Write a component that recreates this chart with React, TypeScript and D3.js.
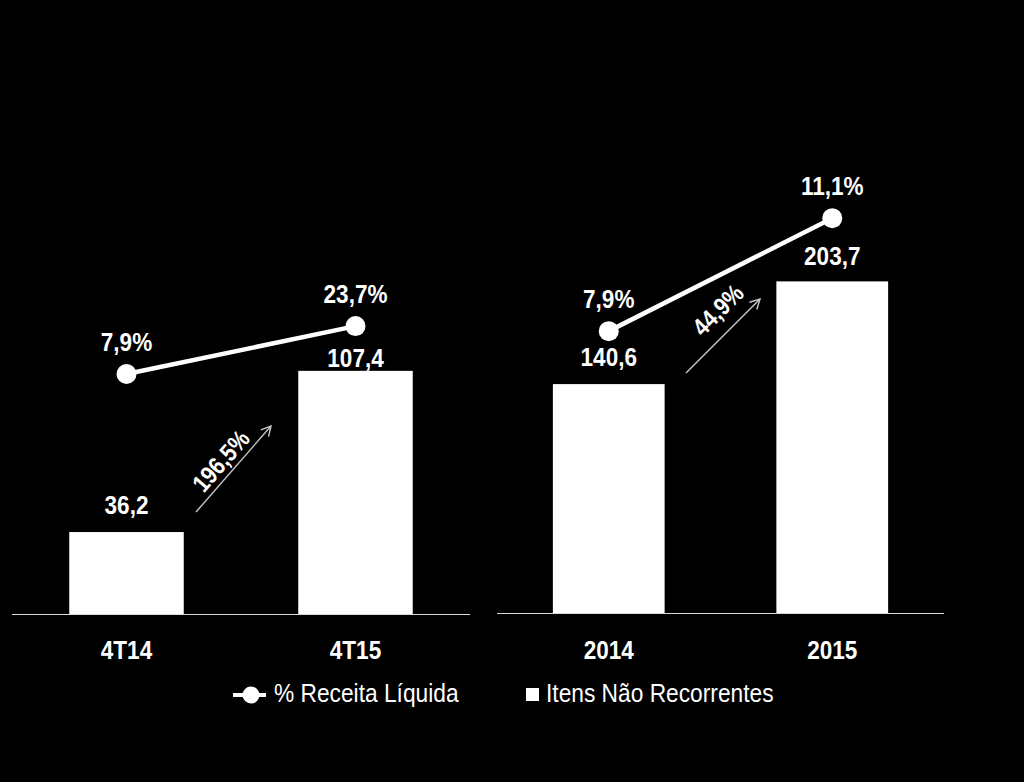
import React from "react";
import * as d3 from "d3";

const leftCategories = ["4T14", "4T15"];
const leftValues = [36.2, 107.4];
const leftPct = [7.9, 23.7];
const leftGrowth = "196,5%";

const rightCategories = ["2014", "2015"];
const rightValues = [140.6, 203.7];
const rightPct = [7.9, 11.1];
const rightGrowth = "44,9%";

const legendLine = "% Receita Líquida";
const legendBar = "Itens Não Recorrentes";

const FONT = "'Liberation Sans', Arial, sans-serif";

const fmt = (v: number) => v.toFixed(1).replace(".", ",");

type NTextProps = {
  x: number;
  y: number;
  size: number;
  k?: number;
  bold?: boolean;
  anchor?: "start" | "middle" | "end";
  rotate?: number;
  children: React.ReactNode;
};

function NText({ x, y, size, k = 0.85, bold = false, anchor = "middle", rotate = 0, children }: NTextProps) {
  return (
    <text
      transform={`translate(${x},${y}) rotate(${rotate}) scale(${k},1)`}
      textAnchor={anchor}
      fill="#fff"
      fontFamily={FONT}
      fontWeight={bold ? "bold" : "normal"}
      fontSize={size}
    >
      {children}
    </text>
  );
}

type PanelProps = {
  cats: string[];
  vals: number[];
  pcts: number[];
  growth: string;
  xRange: [number, number];
  baseY: number;
  yMax: number;
  yTop: number;
  pScale: d3.ScaleLinear<number, number>;
  labelDy: number[];
  arrow: { x1: number; y1: number; x2: number; y2: number; lx: number; ly: number };
};

function Panel({ cats, vals, pcts, growth, xRange, baseY, yMax, yTop, pScale, labelDy, arrow }: PanelProps) {
  const x = d3.scaleBand<string>().domain(cats).range(xRange).paddingInner(0.5).paddingOuter(0.25);
  const y = d3.scaleLinear().domain([0, yMax]).range([baseY, yTop]);
  const bw = x.bandwidth();
  const pts: [number, number][] = cats.map((c, i) => [(x(c) as number) + bw / 2, pScale(pcts[i])]);
  const line = d3.line()(pts) as string;
  const ang = (Math.atan2(arrow.y2 - arrow.y1, arrow.x2 - arrow.x1) * 180) / Math.PI;
  const ah = 11;
  const a1 = ((ang + 180 - 28) * Math.PI) / 180;
  const a2 = ((ang + 180 + 28) * Math.PI) / 180;
  return (
    <g>
      {cats.map((c, i) => (
        <rect key={c} x={x(c)} y={y(vals[i])} width={bw} height={baseY - y(vals[i])} fill="#fff" />
      ))}
      <line x1={xRange[0]} x2={xRange[1]} y1={baseY + 0.5} y2={baseY + 0.5} stroke="#d9d9d9" strokeWidth={1.2} />
      {cats.map((c, i) => (
        <NText key={"v" + c} x={(x(c) as number) + bw / 2} y={y(vals[i]) - labelDy[i]} size={26.5} bold>
          {fmt(vals[i])}
        </NText>
      ))}
      {cats.map((c) => (
        <NText key={"c" + c} x={(x(c) as number) + bw / 2} y={659} size={26.5} bold>
          {c}
        </NText>
      ))}
      <path d={line} stroke="#fff" strokeWidth={4.5} fill="none" />
      {pts.map((p, i) => (
        <g key={"p" + i}>
          <circle cx={p[0]} cy={p[1]} r={10} fill="#fff" />
          <NText x={p[0]} y={p[1] - 23} size={26.5} bold>
            {fmt(pcts[i]) + "%"}
          </NText>
        </g>
      ))}
      <line x1={arrow.x1} y1={arrow.y1} x2={arrow.x2} y2={arrow.y2} stroke="#c8c8c8" strokeWidth={1.4} />
      <polyline
        points={`${arrow.x2 + ah * Math.cos(a1)},${arrow.y2 + ah * Math.sin(a1)} ${arrow.x2},${arrow.y2} ${arrow.x2 + ah * Math.cos(a2)},${arrow.y2 + ah * Math.sin(a2)}`}
        stroke="#c8c8c8"
        strokeWidth={1.4}
        fill="none"
      />
      <g transform={`translate(${arrow.lx},${arrow.ly}) rotate(${ang}) scale(0.85,1)`}>
        <text x={0} y={0} textAnchor="middle" dominantBaseline="central" fill="#fff" fontFamily={FONT}
          fontWeight="bold" fontSize={25}>
          {growth}
        </text>
      </g>
    </g>
  );
}

export default function App() {
  const leftP = d3.scaleLinear().domain([0, 30]).range([398, 307]);
  const rightP = d3.scaleLinear().domain([0, 12]).range([610, 186.4]);
  return (
    <svg width={1024} height={782} style={{ position: "absolute", left: 0, top: 0, background: "#000" }}>
      <rect x={0} y={0} width={1024} height={782} fill="#000" />
      <Panel cats={leftCategories} vals={leftValues} pcts={leftPct} growth={leftGrowth}
        xRange={[12, 470]} baseY={614} yMax={120} yTop={614 - 120 * 2.264} pScale={leftP}
        labelDy={[18, 4]}
        arrow={{ x1: 196, y1: 512, x2: 271, y2: 426, lx: 221, ly: 461 }} />
      <Panel cats={rightCategories} vals={rightValues} pcts={rightPct} growth={rightGrowth}
        xRange={[497, 944]} baseY={613} yMax={220} yTop={613 - 220 * 1.628} pScale={rightP}
        labelDy={[18, 16]}
        arrow={{ x1: 686, y1: 373, x2: 760, y2: 299, lx: 718, ly: 310 }} />
      <g>
        <line x1={233} x2={266} y1={695} y2={695} stroke="#fff" strokeWidth={4} />
        <circle cx={251} cy={695} r={8.5} fill="#fff" />
        <NText x={274} y={702} size={25} k={0.91} anchor="start">{legendLine}</NText>
        <rect x={526} y={688} width={13} height={13} fill="#fff" />
        <NText x={546} y={702} size={25} k={0.91} anchor="start">{legendBar}</NText>
      </g>
    </svg>
  );
}
